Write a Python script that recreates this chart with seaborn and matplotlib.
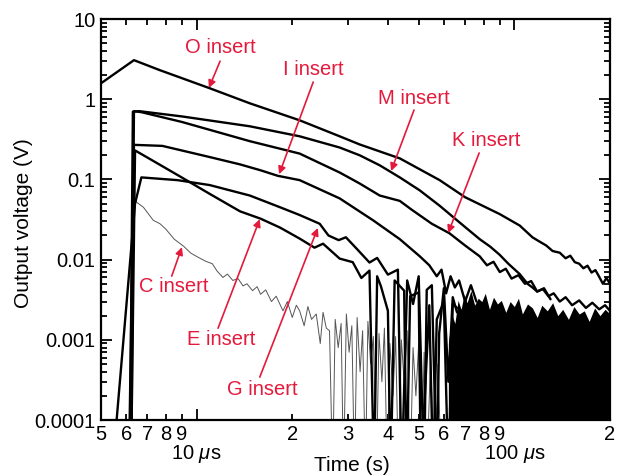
import numpy as np
import matplotlib
matplotlib.use("Agg")
import matplotlib.pyplot as plt
import seaborn as sns
from matplotlib.ticker import FixedLocator, FixedFormatter, LogLocator, FuncFormatter, NullFormatter

# time in microseconds, output voltage in volts
O_t = [5.0, 6.35, 7.67, 11.0, 14.7, 21.1, 28.2, 32.6, 43.6, 58.2, 70.0, 89.9, 104, 114, 120, 126, 132, 139,
       145, 150, 155, 160, 165, 170, 175, 180, 185, 190, 195, 200]
O_v = [1.58, 3.07, 2.3, 1.37, 0.89, 0.546, 0.345, 0.273, 0.183, 0.098, 0.06, 0.037, 0.0266, 0.019, 0.0168,
       0.015, 0.0128, 0.0122, 0.0104, 0.0112, 0.0093, 0.0089, 0.0078, 0.0084, 0.0069, 0.0074, 0.0061, 0.005,
       0.0059, 0.005]

M_t = [6.15, 6.3, 6.6, 9.0, 14.7, 21.1, 28.2, 32.6, 37.7, 43.6, 50.4, 58.2, 67.3, 77.8, 84, 89.9, 96, 104,
       110, 114, 118, 123, 128, 133, 139, 145, 152, 160, 168, 176, 185, 193, 200]
M_v = [1e-5, 0.70, 0.71, 0.61, 0.46, 0.345, 0.25, 0.2, 0.15, 0.106, 0.073, 0.047, 0.029, 0.018, 0.0145,
       0.0115, 0.0088, 0.0066, 0.005, 0.0045, 0.004, 0.0043, 0.0035, 0.0038, 0.003, 0.0034, 0.0027, 0.0031,
       0.0025, 0.0029, 0.0024, 0.0027, 0.0023]

K_t = [6.2, 6.35, 6.7, 9.0, 14.7, 21.1, 28.2, 32.6, 37.7, 43.6, 47.5, 55, 62.5, 70, 77.8, 82, 86, 90, 94,
       98, 103, 108, 113, 118, 124, 130]
K_v = [1e-5, 0.71, 0.69, 0.52, 0.30, 0.21, 0.122, 0.089, 0.063, 0.054, 0.042, 0.028, 0.0213, 0.015, 0.011,
       0.0085, 0.0094, 0.007, 0.0077, 0.0058, 0.0064, 0.005, 0.0054, 0.004, 0.0044, 0.0032]

I_t = [6.1, 6.35, 7.8, 11.0, 13.7, 15.9, 18.0, 21.1, 28.2, 35.9, 43.6, 50.4, 54, 57, 59, 61, 63, 65, 67,
       70, 73, 76]
I_v = [1e-5, 0.27, 0.262, 0.19, 0.154, 0.13, 0.111, 0.098, 0.058, 0.031, 0.018, 0.011, 0.0085, 0.0062,
       0.0075, 0.0038, 0.0062, 0.0045, 0.0055, 0.003, 0.0048, 0.003]

G_t = [5.6, 6.4, 6.7, 8.7, 11.0, 14.7, 18.3, 21.1, 24.4, 26.0, 28.0, 29.5, 32.0, 35.0, 37.0, 40.0, 43.0,
       44.2, 46.0, 48.0, 50.0, 52.0, 53.0, 55.0, 57.0, 58.0, 60.0, 62.0, 64.0, 66.0]
G_v = [1e-4, 0.05, 0.106, 0.098, 0.085, 0.063, 0.045, 0.036, 0.028, 0.02, 0.0175, 0.019, 0.0135, 0.0092,
       0.0105, 0.0065, 0.0075, 2e-5, 0.0055, 0.0028, 0.0062, 2e-5, 0.0042, 0.0048, 2e-5, 0.0012, 0.0044,
       0.0003, 0.0034, 0.0022]

E_t = [6.2, 6.4, 7.67, 8.9, 11.0, 13.7, 15.9, 18.3, 21.1, 23.5, 25.0, 28.2, 31.0, 33.0, 35.0, 36.2, 37.0,
       38.0, 40.0, 40.8, 42.0, 45.0, 45.8, 47.0, 50.0, 50.8, 54.0, 55.5, 57.0, 60.0, 62.0, 64.0, 66.0]
E_v = [1e-5, 0.23, 0.152, 0.108, 0.066, 0.04, 0.0324, 0.0251, 0.0183, 0.0141, 0.0158, 0.0103, 0.0093,
       0.0059, 0.0073, 2e-5, 0.0062, 0.0047, 0.0023, 2e-5, 0.0055, 0.0041, 2e-5, 0.0035, 0.0039, 2e-5,
       0.0027, 2e-5, 0.0018, 0.003, 2e-5, 0.0028, 0.0025]

C_t = [6.25, 6.35, 6.8, 7.3, 7.67, 8.0, 8.5, 9.1, 9.6, 10.2, 10.7, 11.2, 11.6, 12.1, 12.5, 13.0, 13.5, 14.0,
       14.4, 15.0, 15.5, 15.9, 16.5, 17.2, 17.8, 18.7, 19.3, 20.0, 20.6, 21.1, 21.8, 22.4, 23.0, 23.8, 24.5,
       25.0, 25.6, 26.2, 26.8, 27.3, 27.9, 28.5, 29.0, 29.6, 30.2, 30.8, 31.4, 32.0, 32.7, 33.3, 34.0, 34.6,
       35.3, 36.0, 36.8, 37.5, 38.3, 39.0, 39.8, 40.6, 41.5, 42.3, 43.2, 44.1, 45.0, 46.0, 47.0, 48.0, 49.0,
       50.0, 51.0, 52.0, 53.0, 54.5, 56.0, 57.5, 59.0]
C_v = [1e-5, 0.055, 0.045, 0.031, 0.028, 0.024, 0.018, 0.0147, 0.012, 0.0105, 0.0095, 0.0089, 0.0072,
       0.006, 0.0066, 0.0055, 0.0058, 0.0047, 0.005, 0.0041, 0.0046, 0.0037, 0.0042, 0.003, 0.0035, 0.0023,
       0.003, 0.0019, 0.0027, 0.0023, 0.0015, 0.0026, 0.0018, 0.0021, 0.0009, 0.0022, 0.0014, 0.0013, 2e-5,
       0.0018, 0.0008, 0.0016, 2e-5, 0.0021, 0.0007, 0.0015, 2e-5, 0.0019, 0.0004, 0.0013, 2e-5, 0.0017,
       0.0005, 0.0011, 2e-5, 0.0012, 0.0003, 0.0014, 2e-5, 0.0009, 0.0002, 0.0011, 2e-5, 0.001, 0.0003,
       0.0013, 2e-5, 0.0008, 0.0002, 0.0009, 2e-5, 0.0007, 2e-5, 0.0006, 2e-5, 0.0005, 2e-5]

# top of the dense noise floor at late times
F_t = [62, 63.5, 65, 66.5, 68, 69.5, 71, 73, 75, 77, 79, 81, 83.5, 86, 88.5, 91, 94, 97, 100, 103, 106, 110,
       114, 118, 122, 127, 132, 137, 142, 148, 154, 160, 166, 172, 179, 186, 193, 200]
F_v = [0.0009, 0.0021, 0.0016, 0.0031, 0.0024, 0.0037, 0.0029, 0.0041, 0.0027, 0.0033, 0.003, 0.0038,
       0.0024, 0.0034, 0.0028, 0.0031, 0.0022, 0.003, 0.0026, 0.0033, 0.0021, 0.0028, 0.0025, 0.0019, 0.0027,
       0.0023, 0.0029, 0.002, 0.0024, 0.0018, 0.0026, 0.0021, 0.0023, 0.0017, 0.0025, 0.002, 0.0024, 0.0021]

red = "#e41a3c"

sns.set_theme(style="ticks")
plt.rcParams["font.family"] = ["Liberation Sans", "DejaVu Sans"]
plt.rcParams["mathtext.fontset"] = "custom"
plt.rcParams["mathtext.rm"] = "Liberation Sans"
plt.rcParams["mathtext.it"] = "Liberation Sans:italic"

fig = plt.figure(figsize=(6.18, 4.76), dpi=100)
ax = fig.add_axes([0.1634, 0.1176, 0.8236, 0.8424])
ax.set_xscale("log")
ax.set_yscale("log")

us = 1e-6
ax.fill_between(np.array(F_t) * us, 1e-6, F_v, color="black", lw=0, zorder=1)

sns.lineplot(x=np.array(C_t) * us, y=C_v, ax=ax, color="#555555", lw=0.7, sort=False, zorder=2)
for t, v in [(O_t, O_v), (M_t, M_v), (K_t, K_v), (I_t, I_v), (G_t, G_v), (E_t, E_v)]:
    sns.lineplot(x=np.array(t) * us, y=v, ax=ax, color="black", lw=1.7, sort=False, zorder=3)

ax.set_xlim(5e-6, 2e-4)
ax.set_ylim(1e-4, 10)

# x ticks: mantissas on the minor ticks, 10 us / 100 us one row lower
ax.xaxis.set_major_locator(FixedLocator([1e-5, 1e-4]))
ax.xaxis.set_major_formatter(FixedFormatter(["10 $\\mu$s", "100 $\\mu$s"]))
ax.xaxis.set_minor_locator(LogLocator(base=10, subs=np.arange(2, 10)))
ax.xaxis.set_minor_formatter(FuncFormatter(lambda v, p: f"{v / 10 ** np.floor(np.log10(v)):.0f}"))
ax.yaxis.set_major_locator(LogLocator(base=10))
ax.yaxis.set_major_formatter(FuncFormatter(lambda v, p: f"{v:g}"))
ax.yaxis.set_minor_locator(LogLocator(base=10, subs=np.arange(2, 10)))
ax.yaxis.set_minor_formatter(NullFormatter())

ax.tick_params(which="both", direction="in", top=True, right=True, labelsize=14.5, width=1.3,
               colors="black", pad=4)
ax.tick_params(which="major", length=8)
ax.tick_params(which="minor", length=4)
ax.tick_params(axis="x", which="minor", pad=3.5)
ax.tick_params(axis="x", which="major", pad=16.5)
for s in ax.spines.values():
    s.set_linewidth(1.6)
    s.set_color("black")

ax.set_xlabel("Time (s)", fontsize=15, color="black")
ax.set_ylabel("Output voltage (V)", fontsize=15, color="black")
ax.xaxis.set_label_coords(0.493, -0.09)
ax.yaxis.set_label_coords(-0.134, 0.491)

labels = [
    ("O insert", (0.234, 0.928), (0.234, 0.895), (0.212, 0.828)),
    ("I insert", (0.418, 0.873), (0.417, 0.843), (0.350, 0.613)),
    ("M insert", (0.615, 0.803), (0.615, 0.773), (0.570, 0.621)),
    ("K insert", (0.756, 0.698), (0.743, 0.666), (0.682, 0.466)),
    ("C insert", (0.143, 0.332), (0.139, 0.359), (0.159, 0.431)),
    ("E insert", (0.236, 0.200), (0.230, 0.229), (0.312, 0.501)),
    ("G insert", (0.316, 0.075), (0.312, 0.107), (0.426, 0.479)),
]
for txt, pos, start, tip in labels:
    ax.text(*pos, txt, transform=ax.transAxes, color=red, fontsize=14.5, ha="center", va="center", zorder=5)
    ax.annotate("", xy=tip, xytext=start, xycoords="axes fraction", textcoords="axes fraction",
                arrowprops=dict(arrowstyle="-|>", color=red, lw=1.2, mutation_scale=11,
                                shrinkA=0, shrinkB=0), zorder=5)

fig.savefig("out.png", dpi=100)
